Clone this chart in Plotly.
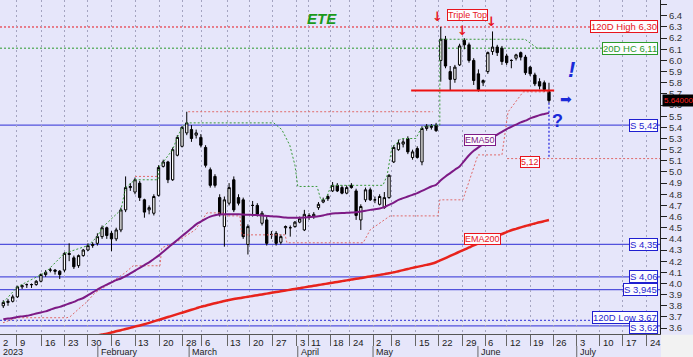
import plotly.graph_objects as go

# ---------------- data (trading-day index 0 = 2 Jan 2023) ----------------
opens = [3.80, 3.83, 3.84, 3.88, 3.97, 3.99, 3.99, 3.99, 4.02, 4.08,
         4.12, 4.12, 4.11, 4.12, 4.27, 4.23, 4.16, 4.25, 4.30, 4.34,
         4.36, 4.42, 4.50, 4.45, 4.40, 4.48, 4.66, 4.86, 4.82, 4.90,
         4.75, 4.66, 4.63, 4.79, 5.05, 5.09, 4.93, 5.15, 5.23, 5.35,
         5.38, 5.33, 5.31, 5.22, 5.02, 4.96, 4.77, 4.51, 4.72, 4.93,
         4.77, 4.75, 4.35, 4.70, 4.70, 4.54, 4.57, 4.44, 4.45, 4.37,
         4.50, 4.50, 4.51, 4.55, 4.48, 4.61, 4.60, 4.68, 4.73, 4.78,
         4.83, 4.88, 4.86, 4.81, 4.88, 4.83, 4.57, 4.75, 4.84, 4.75,
         4.71, 4.68, 4.77, 5.09, 5.20, 5.25, 5.30, 5.13, 5.21, 5.09,
         5.39, 5.40, 5.42, 6.00, 6.19, 5.90, 5.83, 5.96, 6.18, 6.14,
         6.00, 5.88, 5.80, 5.90, 6.08, 6.12, 6.11, 6.04, 6.00, 6.02,
         6.07, 6.03, 5.94, 5.87, 5.81, 5.80, 5.72]
highs = [3.85, 3.86, 3.90, 3.98, 3.99, 4.00, 4.00, 4.03, 4.09, 4.12,
         4.14, 4.13, 4.12, 4.28, 4.36, 4.25, 4.26, 4.31, 4.36, 4.37,
         4.45, 4.52, 4.51, 4.47, 4.50, 4.68, 4.96, 4.90, 4.95, 4.92,
         4.76, 4.70, 4.80, 5.06, 5.11, 5.10, 5.22, 5.33, 5.41, 5.54,
         5.42, 5.38, 5.34, 5.24, 5.04, 4.98, 4.80, 4.78, 4.90, 4.96,
         4.80, 4.77, 4.53, 4.74, 4.72, 4.65, 4.60, 4.47, 4.47, 4.44,
         4.52, 4.52, 4.56, 4.60, 4.66, 4.63, 4.64, 4.73, 4.77, 4.80,
         4.91, 4.90, 4.88, 4.88, 4.90, 4.85, 4.71, 4.86, 4.86, 4.78,
         4.80, 4.82, 4.98, 5.24, 5.29, 5.30, 5.32, 5.20, 5.23, 5.41,
         5.43, 5.43, 5.44, 6.30, 6.22, 5.95, 5.96, 6.15, 6.20, 6.16,
         6.02, 5.92, 5.83, 6.08, 6.26, 6.14, 6.13, 6.06, 6.01, 6.06,
         6.08, 6.05, 5.95, 5.89, 5.84, 5.82, 5.80]
lows = [3.78, 3.80, 3.83, 3.87, 3.95, 3.96, 3.96, 3.98, 4.01, 4.06,
        4.10, 4.08, 4.04, 4.10, 4.20, 4.13, 4.14, 4.24, 4.29, 4.32,
        4.34, 4.40, 4.40, 4.29, 4.38, 4.46, 4.64, 4.83, 4.80, 4.74,
        4.59, 4.62, 4.61, 4.78, 5.04, 4.90, 4.92, 5.14, 5.22, 5.33,
        5.27, 5.30, 5.22, 5.04, 4.86, 4.86, 4.60, 4.33, 4.70, 4.64,
        4.70, 4.40, 4.26, 4.60, 4.60, 4.52, 4.34, 4.40, 4.34, 4.35,
        4.44, 4.42, 4.50, 4.54, 4.47, 4.57, 4.58, 4.66, 4.72, 4.74,
        4.82, 4.82, 4.80, 4.80, 4.85, 4.57, 4.48, 4.73, 4.74, 4.72,
        4.70, 4.67, 4.76, 5.08, 5.19, 5.22, 5.16, 5.11, 5.12, 5.06,
        5.37, 5.38, 5.36, 5.81, 5.93, 5.73, 5.80, 5.95, 6.10, 5.98,
        5.78, 5.72, 5.77, 5.88, 6.05, 6.04, 5.96, 5.96, 5.93, 6.00,
        6.00, 5.87, 5.86, 5.77, 5.74, 5.72, 5.62]
closes = [3.83, 3.84, 3.88, 3.97, 3.98, 3.99, 3.99, 4.02, 4.08, 4.10,
          4.12, 4.11, 4.08, 4.27, 4.26, 4.15, 4.25, 4.30, 4.34, 4.35,
          4.42, 4.50, 4.43, 4.40, 4.48, 4.66, 4.86, 4.87, 4.93, 4.77,
          4.64, 4.68, 4.78, 5.04, 5.09, 4.93, 5.20, 5.31, 5.40, 5.44,
          5.30, 5.35, 5.24, 5.06, 4.88, 4.88, 4.62, 4.75, 4.86, 4.66,
          4.72, 4.42, 4.51, 4.70, 4.62, 4.63, 4.36, 4.44, 4.36, 4.42,
          4.51, 4.50, 4.55, 4.58, 4.62, 4.60, 4.62, 4.71, 4.75, 4.76,
          4.88, 4.83, 4.81, 4.86, 4.86, 4.61, 4.69, 4.84, 4.75, 4.75,
          4.78, 4.77, 4.97, 5.22, 5.26, 5.27, 5.18, 5.18, 5.13, 5.39,
          5.41, 5.41, 5.37, 6.19, 5.95, 5.83, 5.94, 6.13, 6.14, 6.00,
          5.82, 5.74, 5.82, 6.07, 6.12, 6.07, 5.99, 5.98, 6.00, 6.05,
          6.03, 5.89, 5.88, 5.79, 5.77, 5.74, 5.64]

ema50 = [3.68, 3.685, 3.69, 3.70, 3.705, 3.71, 3.72, 3.73, 3.74, 3.75,
         3.765, 3.78, 3.79, 3.805, 3.82, 3.835, 3.855, 3.87, 3.895, 3.92,
         3.945, 3.97, 3.99, 4.01, 4.03, 4.045, 4.065, 4.09, 4.115, 4.14,
         4.165, 4.19, 4.22, 4.25, 4.285, 4.32, 4.355, 4.39, 4.425, 4.46,
         4.495, 4.53, 4.555, 4.58, 4.60, 4.612, 4.618, 4.62, 4.62, 4.62,
         4.62, 4.618, 4.616, 4.615, 4.613, 4.61, 4.606, 4.602, 4.60, 4.596,
         4.592, 4.59, 4.59, 4.59, 4.592, 4.595, 4.598, 4.602, 4.61, 4.62,
         4.628, 4.63, 4.632, 4.634, 4.636, 4.638, 4.645, 4.652, 4.66, 4.666,
         4.672, 4.685, 4.705, 4.725, 4.75, 4.765, 4.78, 4.795, 4.81, 4.83,
         4.85, 4.87, 4.885, 4.925, 4.96, 4.99, 5.02, 5.05, 5.10, 5.15,
         5.19, 5.22, 5.25, 5.28, 5.31, 5.335, 5.36, 5.385, 5.405, 5.425,
         5.445, 5.46, 5.48, 5.495, 5.51, 5.52, 5.53]
ema200 = [3.40, 3.405, 3.41, 3.415, 3.42, 3.426, 3.432, 3.438, 3.444, 3.45,
          3.457, 3.464, 3.471, 3.478, 3.486, 3.494, 3.502, 3.51, 3.518, 3.526,
          3.534, 3.542, 3.55, 3.56, 3.571, 3.581, 3.592, 3.602, 3.613, 3.623,
          3.634, 3.647, 3.66, 3.673, 3.686, 3.699, 3.712, 3.725, 3.738, 3.751,
          3.764, 3.777, 3.79, 3.801, 3.812, 3.823, 3.833, 3.843, 3.852, 3.86,
          3.867, 3.874, 3.881, 3.888, 3.895, 3.902, 3.909, 3.916, 3.923, 3.93,
          3.937, 3.944, 3.951, 3.958, 3.965, 3.972, 3.979, 3.986, 3.993, 4.00,
          4.007, 4.014, 4.021, 4.028, 4.035, 4.042, 4.049, 4.056, 4.063, 4.07,
          4.077, 4.084, 4.091, 4.10, 4.11, 4.12, 4.13, 4.14, 4.149, 4.158,
          4.167, 4.177, 4.19, 4.209, 4.228, 4.247, 4.266, 4.285, 4.304, 4.323,
          4.342, 4.359, 4.376, 4.393, 4.41, 4.427, 4.444, 4.461, 4.477, 4.49,
          4.503, 4.515, 4.527, 4.538, 4.549, 4.559, 4.569]

# 20-day highest close (green dotted step line)
hc_x = [0, 3, 9, 13, 18, 20, 21, 25, 26, 28, 32.9, 33, 34, 36, 37, 38, 39, 57.5,
        59.2, 60.9, 62.0, 62.4, 62.6, 66.7, 67.5, 68.6, 69.7, 80.7, 81.6, 82.6,
        83.7, 84.5, 87.7, 88.8, 89.6, 91.8, 92.8, 92.8, 110.9, 113.5, 116]
hc_y = [3.83, 3.97, 4.10, 4.27, 4.34, 4.42, 4.50, 4.66, 4.86, 4.93, 4.93, 5.04,
        5.09, 5.20, 5.31, 5.40, 5.44, 5.44, 5.38, 5.24, 5.06, 4.93, 4.87, 4.87,
        4.75, 4.76, 4.88, 4.88, 4.97, 5.22, 5.26, 5.30, 5.30, 5.39, 5.41, 5.42,
        5.42, 6.19, 6.19, 6.11, 6.11]

# trailing low (red dotted step line)
tl_x = [-0.06, 2.9, 13.5, 14.2, 16.3, 17.8, 19.5, 21.6, 23.7, 25.9, 27.6, 33.3,
        33.7, 36.9, 40.8, 43.3, 46.7, 47.1, 50.3, 50.7, 59.9, 60.3, 76.5, 78.0,
        82.2, 92.4, 92.8, 97.7, 100.9, 106.0, 107.3, 110.5, 116.0]
tl_y = [3.648, 3.693, 3.693, 3.702, 3.782, 3.836, 3.917, 3.970, 4.033, 4.096,
        4.159, 4.159, 4.320, 4.374, 4.481, 4.633, 4.633, 4.606, 4.606, 4.436,
        4.436, 4.365, 4.365, 4.481, 4.606, 4.606, 4.750, 4.750, 5.153, 5.153,
        5.538, 5.718, 5.718]

# previous highs (red dotted)
ph_x = [28.0, 32.9, None, 39.3, 91.3]
ph_y = [4.96, 4.96, None, 5.54, 5.54]

# horizontal levels
levels = [6.30, 6.11, 5.42, 4.35, 4.06, 3.945, 3.67, 3.62]
level_labels = ["120D High 6,30", "20D HC 6,11", "S 5,42", "S 4,35", "S 4,06",
                "S 3,945", "120D Low 3,67", "S 3,62"]
neckline = 5.73
target = 5.12
last_close = 5.64

# x axis labels
day_labels = ["2", "9", "16", "23", "30", "6", "13", "20", "28", "6", "13", "20", "27",
              "3", "11", "18", "24", "2", "8", "15", "22", "29", "6", "12", "19", "26",
              "3", "10", "17", "24"]
day_pos = [-0.7, 2.9, 8.2, 13.1, 18.0, 23.1, 28.0, 33.3, 38.2, 42.2, 47.6, 52.4, 57.3,
           62.4, 64.8, 69.5, 73.7, 78.6, 82.6, 87.7, 92.6, 97.7, 102.4, 107.0, 112.0,
           116.9, 121.9, 126.8, 131.7, 136.8]
month_labels = ["2023", "February", "March", "April", "May", "June", "July"]
month_pos = [-0.7, 20.1, 39.5, 62.6, 78.6, 100.9, 121.9]

y_ticks = [round(3.6 + 0.1 * i, 1) for i in range(30)]

# ---------------- figure ----------------
days = list(range(len(closes)))
XMIN, XMAX = -0.70, 139.6
YMIN, YMAX = 3.547, 6.542
BG = "#E6E6FA"
FONT = "Liberation Sans, Arial, sans-serif"
BLUE = "#5252dc"
BLUE_T = "#1f1fd0"
RED = "#e8141c"
GREEN = "#2a9a2a"
PURPLE = "#7d1a85"
FINE_DOT = "2px,2px"

fig = go.Figure()
fig.add_trace(go.Scatter(x=ph_x, y=ph_y, mode="lines",
                         line=dict(color="#e06a6a", width=1, dash=FINE_DOT), hoverinfo="skip"))
fig.add_trace(go.Scatter(x=tl_x, y=tl_y, mode="lines",
                         line=dict(color="#e06a6a", width=1, dash=FINE_DOT), hoverinfo="skip"))
fig.add_trace(go.Scatter(x=hc_x, y=hc_y, mode="lines",
                         line=dict(color="#3a9a3a", width=1, dash=FINE_DOT), hoverinfo="skip"))
fig.add_trace(go.Scatter(x=days, y=ema200, mode="lines", line_shape="spline",
                         line=dict(color="#e8231c", width=2.5), hoverinfo="skip"))
fig.add_trace(go.Scatter(x=days, y=ema50, mode="lines", line_shape="spline",
                         line=dict(color=PURPLE, width=2), hoverinfo="skip"))
fig.add_trace(go.Candlestick(
    x=days, open=opens, high=highs, low=lows, close=closes,
    increasing=dict(line=dict(color="black", width=1), fillcolor="white"),
    decreasing=dict(line=dict(color="black", width=1), fillcolor="black"),
    whiskerwidth=0, hoverinfo="skip"))

shapes = []
level_style = [(RED, FINE_DOT, 1), (GREEN, FINE_DOT, 1), (BLUE, "solid", 1.3), (BLUE, "solid", 1.3),
               (BLUE, "solid", 1.3), (BLUE, "solid", 1.3), (BLUE, FINE_DOT, 1.2), (BLUE, "solid", 1.3)]
level_text_col = [RED, GREEN, BLUE_T, BLUE_T, BLUE_T, BLUE_T, BLUE_T, BLUE_T]
level_shift = [0, 0, 0, 0, 0, 0, 3, -2]
for lv, (c, d, w) in zip(levels, level_style):
    shapes.append(dict(type="line", xref="paper", x0=0, x1=1, yref="y", y0=lv, y1=lv,
                       line=dict(color=c, width=w, dash=d), layer="below"))
# neckline
shapes.append(dict(type="line", xref="x", x0=86.7, x1=117.1, yref="y", y0=neckline, y1=neckline,
                   line=dict(color="#ee1111", width=2)))
# target line
shapes.append(dict(type="line", xref="x", x0=107.1, x1=XMAX, yref="y", y0=target, y1=target,
                   line=dict(color="#e06a6a", width=1, dash=FINE_DOT), layer="below"))
# vertical projection
shapes.append(dict(type="line", xref="x", x0=days[-1], x1=days[-1], yref="y", y0=lows[-1], y1=target,
                   line=dict(color="#3030e0", width=1.3, dash=FINE_DOT)))
# month separators in the month row
for mp in month_pos[1:]:
    shapes.append(dict(type="line", xref="x", x0=mp, x1=mp, yref="paper", y0=-0.036, y1=-0.075,
                       line=dict(color="#666", width=1)))
# bottom-right corner
shapes.append(dict(type="rect", xref="paper", x0=1.0015, x1=1.06, yref="paper", y0=-0.002, y1=-0.08,
                   fillcolor="#f2f2f2", line=dict(width=0)))

ann = []
for lv, txt, col, ys in zip(levels, level_labels, level_text_col, level_shift):
    ann.append(dict(x=1, xref="paper", xanchor="right", xshift=-2, y=lv, yref="y", yshift=ys,
                    text=txt, showarrow=False, font=dict(family=FONT, size=9.5, color=col),
                    bgcolor="rgba(255,255,255,0.92)", bordercolor=col, borderwidth=1, borderpad=0))

def box(x, y, txt, col, size=9, **kw):
    d = dict(x=x, y=y, xref="x", yref="y", text=txt, showarrow=False,
             font=dict(family=FONT, size=size, color=col),
             bgcolor="rgba(255,255,255,0.92)", bordercolor=col, borderwidth=1, borderpad=0)
    d.update(kw)
    return d

ann.append(box(98.7, 6.41, "Triple Top", RED))
ann.append(box(101.3, 5.288, "EMA50", PURPLE))
ann.append(box(101.8, 4.40, "EMA200", RED))
ann.append(box(112.0, target, "5,12", RED, yshift=-3))
for ax_, ay_ in [(92.4, 6.39), (97.7, 6.265), (103.7, 6.345)]:
    ann.append(dict(x=ax_, y=ay_, xref="x", yref="y", text="<b>↓</b>", showarrow=False,
                    font=dict(family="DejaVu Sans", size=13, color=RED)))
ann.append(dict(x=67.7, y=6.38, xref="x", yref="y", text="<b><i>ETE</i></b>", showarrow=False,
                font=dict(family=FONT, size=15, color="#1a9a1a")))
ann.append(dict(x=120.7, y=5.915, xref="x", yref="y", text="<b><i>!</i></b>", showarrow=False,
                font=dict(family=FONT, size=22, color="#1a2ad8")))
ann.append(dict(x=119.6, y=5.655, xref="x", yref="y", text="➡", showarrow=False,
                font=dict(family="DejaVu Sans", size=14, color="#1a2ad8")))
ann.append(dict(x=117.9, y=5.46, xref="x", yref="y", text="<b>?</b>", showarrow=False,
                font=dict(family=FONT, size=18, color="#1a2ad8")))
# last price tag on axis
ann.append(dict(x=1, xref="paper", xanchor="left", xshift=2, y=last_close, yref="y",
                text="5.64000", showarrow=False, font=dict(family=FONT, size=8, color="#ff2020"),
                bgcolor="black", borderpad=1))
# x axis labels
for p, t in zip(day_pos, day_labels):
    ann.append(dict(x=p, xref="x", xanchor="left", xshift=1, y=0, yref="paper", yanchor="top",
                    yshift=-1, text=t, showarrow=False, font=dict(family=FONT, size=9.5, color="#222")))
for p, t in zip(month_pos, month_labels):
    ann.append(dict(x=p, xref="x", xanchor="left", xshift=1, y=0, yref="paper", yanchor="top",
                    yshift=-11, text=t, showarrow=False, font=dict(family=FONT, size=9, color="#222")))

fig.update_layout(
    width=693, height=357,
    margin=dict(l=0, r=33, t=0, b=23, autoexpand=False),
    paper_bgcolor=BG, plot_bgcolor=BG,
    showlegend=False,
    shapes=shapes, annotations=ann,
    xaxis=dict(range=[XMIN, XMAX], rangeslider=dict(visible=False), automargin=False,
               tickmode="array", tickvals=day_pos[1:], showticklabels=False,
               ticks="outside", ticklen=11, tickcolor="#666", tickwidth=1,
               showgrid=True, gridcolor="#a4a4c0", griddash="2px,3px", gridwidth=1,
               showline=True, linecolor="#555", linewidth=1, zeroline=False, fixedrange=True),
    yaxis=dict(range=[YMIN, YMAX], side="right", tickmode="array", tickvals=y_ticks,
               automargin=False,
               ticktext=[f"{v:.1f}" for v in y_ticks], ticks="outside", ticklen=6,
               tickcolor="#222", showgrid=False, showline=True, linecolor="#222",
               tickfont=dict(family=FONT, size=9.5, color="#333"), zeroline=False),
)

fig.write_html("out.html", config={"displayModeBar": False},
               post_script="document.body.style.margin='0px';")
